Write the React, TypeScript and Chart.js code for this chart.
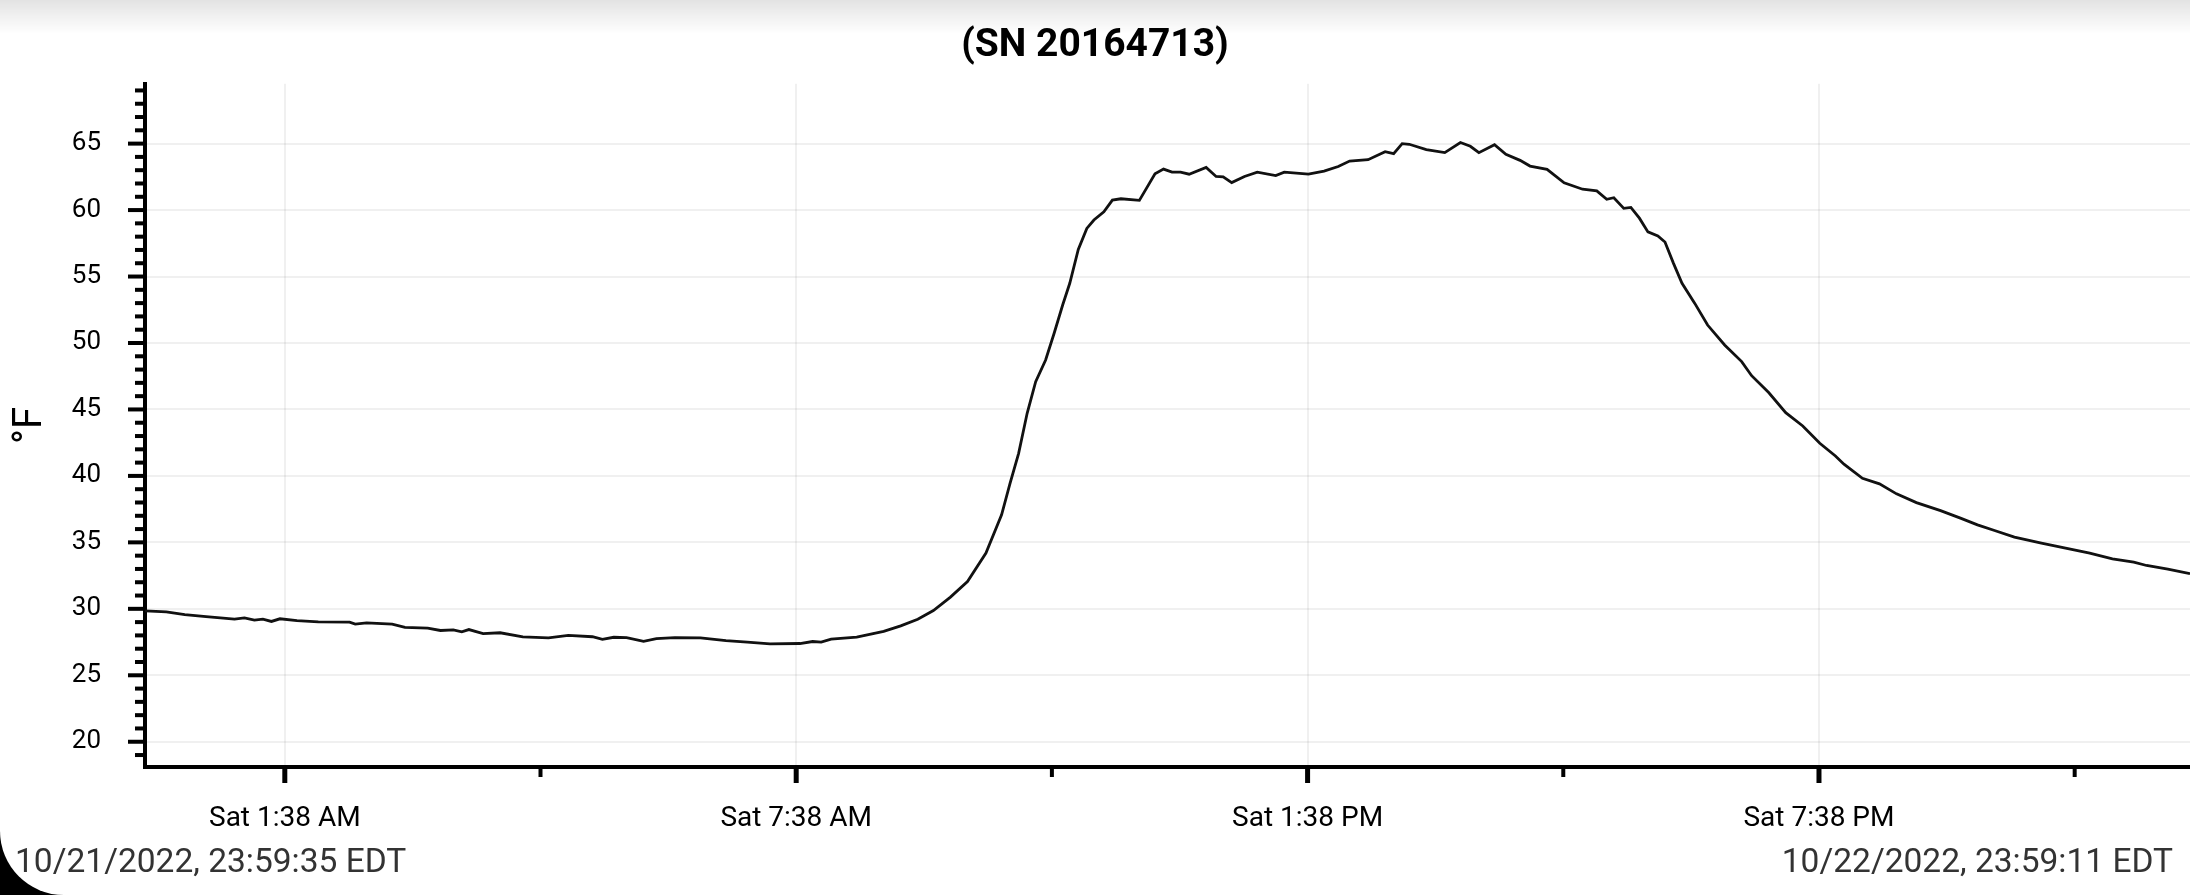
import { useEffect, useRef } from 'react';
import { Chart, registerables } from 'chart.js';

Chart.register(...registerables);

const startTime = '2022-10-21T23:59:35-04:00';
const endTime = '2022-10-22T23:59:11-04:00';

// minutes after the first reading
const minutesFromStart = [
  0, 15, 28, 43, 63, 70, 77, 83, 89, 95, 107, 122, 144, 148, 156, 174, 183, 199, 208, 217,
  223, 228, 238, 250, 266, 284, 298, 315, 322, 330, 339, 351, 360, 373, 391, 409, 424, 440, 461, 470,
  476, 483, 501, 520, 532, 544, 555, 567, 579, 592, 603, 609, 615, 621, 627, 634, 640, 646, 651, 657,
  663, 668, 675, 681, 687, 700, 711, 717, 723, 729, 735, 747, 754, 759, 765, 774, 783, 796, 802, 819,
  830, 840, 848, 861, 873, 879, 885, 890, 902, 915, 926, 933, 939, 950, 958, 968, 975, 987, 999, 1012,
  1022, 1029, 1034, 1041, 1046, 1052, 1058, 1065, 1070, 1076, 1082, 1091, 1100, 1112, 1124, 1131, 1143, 1155, 1167, 1179,
  1190, 1196, 1209, 1221, 1233, 1247, 1264, 1278, 1290, 1302, 1316, 1335, 1352, 1369, 1385, 1400, 1409, 1424, 1439.6,
];

const tempF = [
  29.85, 29.77, 29.57, 29.42, 29.22, 29.32, 29.15, 29.22, 29.05, 29.25, 29.12, 29.02, 29.0, 28.85, 28.95, 28.85, 28.6, 28.55, 28.37, 28.42,
  28.27, 28.44, 28.14, 28.2, 27.89, 27.81, 28.0, 27.9, 27.7, 27.86, 27.84, 27.56, 27.76, 27.84, 27.81, 27.61, 27.49, 27.36, 27.39, 27.54,
  27.49, 27.72, 27.87, 28.3, 28.72, 29.22, 29.87, 30.88, 32.05, 34.19, 37.07, 39.45, 41.7, 44.71, 47.09, 48.72, 50.73, 52.86, 54.49, 57.04,
  58.62, 59.25, 59.87, 60.75, 60.85, 60.73, 62.73, 63.08, 62.85, 62.85, 62.7, 63.21, 62.53, 62.5, 62.07, 62.53, 62.85, 62.6, 62.85, 62.7,
  62.93, 63.28, 63.69, 63.79, 64.39, 64.24, 65.0, 64.95, 64.55, 64.32, 65.08, 64.8, 64.32, 64.92, 64.19, 63.74, 63.31, 63.06, 62.05, 61.57,
  61.44, 60.81, 60.93, 60.13, 60.2, 59.39, 58.36, 58.06, 57.6, 55.99, 54.49, 52.98, 51.35, 49.85, 48.6, 47.54, 46.27, 44.76, 43.76, 42.46,
  41.5, 40.88, 39.82, 39.4, 38.65, 37.99, 37.39, 36.82, 36.32, 35.89, 35.39, 34.94, 34.56, 34.19, 33.76, 33.51, 33.26, 32.98, 32.65,
];

const xTickTimes = [
  '2022-10-22T01:38:00-04:00',
  '2022-10-22T04:38:00-04:00',
  '2022-10-22T07:38:00-04:00',
  '2022-10-22T10:38:00-04:00',
  '2022-10-22T13:38:00-04:00',
  '2022-10-22T16:38:00-04:00',
  '2022-10-22T19:38:00-04:00',
  '2022-10-22T22:38:00-04:00',
];
const xTickLabels = ['Sat 1:38 AM', '', 'Sat 7:38 AM', '', 'Sat 1:38 PM', '', 'Sat 7:38 PM', ''];

const yLabelValues = [20, 25, 30, 35, 40, 45, 50, 55, 60, 65];
const yMinorFrom = 19;
const yMinorTo = 69;
const yMin = 18.1;
const yMax = 69.5;

const footerLeft = '10/21/2022, 23:59:35 EDT';
const footerRight = '10/22/2022, 23:59:11 EDT';

const gridColor = 'rgba(0, 0, 0, 0.06)';

// tick marks of two lengths (major / minor), placed by the scales
const tickMarks = {
  id: 'tickMarks',
  afterDraw(chart) {
    const { ctx, chartArea, scales } = chart;
    ctx.save();
    ctx.strokeStyle = '#000';
    ctx.lineCap = 'butt';
    scales.y.ticks.forEach((t) => {
      const y = scales.y.getPixelForValue(t.value);
      const major = yLabelValues.includes(t.value);
      ctx.lineWidth = 4;
      ctx.beginPath();
      ctx.moveTo(chartArea.left - (major ? 17 : 10), y);
      ctx.lineTo(chartArea.left, y);
      ctx.stroke();
    });
    scales.x.ticks.forEach((t, i) => {
      const x = scales.x.getPixelForValue(t.value);
      const major = xTickLabels[i] !== '';
      ctx.lineWidth = major ? 5 : 4;
      ctx.beginPath();
      ctx.moveTo(x, chartArea.bottom);
      ctx.lineTo(x, chartArea.bottom + (major ? 16 : 10));
      ctx.stroke();
    });
    ctx.restore();
  },
};

const TemperatureChart = () => {
  const canvasRef = useRef<HTMLCanvasElement | null>(null);

  useEffect(() => {
    const canvas = canvasRef.current;
    if (!canvas) return;

    const startMs = Date.parse(startTime);
    const endMs = Date.parse(endTime);
    const points = minutesFromStart.map((m, i) => ({ x: startMs + m * 60000, y: tempF[i] }));

    const chart = new Chart(canvas, {
      type: 'line',
      data: {
        datasets: [
          {
            data: points,
            borderColor: '#111',
            borderWidth: 2.8,
            pointRadius: 0,
            tension: 0,
            fill: false,
          },
        ],
      },
      options: {
        animation: false,
        responsive: true,
        maintainAspectRatio: false,
        font: { family: 'Roboto' },
        layout: { padding: 0 },
        plugins: {
          legend: { display: false },
          tooltip: { enabled: false },
          title: {
            display: true,
            text: '(SN 20164713)',
            color: '#000',
            font: { family: 'Roboto', size: 39, weight: 'bold' },
            padding: { top: 23, bottom: 14 },
          },
        },
        scales: {
          x: {
            type: 'linear',
            min: startMs,
            max: endMs,
            afterBuildTicks: (scale) => {
              scale.ticks = xTickTimes.map((t) => ({ value: Date.parse(t) }));
            },
            afterFit: (scale) => {
              scale.height = 128;
            },
            ticks: {
              autoSkip: false,
              maxRotation: 0,
              padding: 35,
              color: '#000',
              font: { family: 'Roboto', size: 28 },
              callback: (_v, i) => xTickLabels[i],
            },
            grid: {
              drawTicks: false,
              lineWidth: 2,
              color: (c) => (c.tick && xTickLabels[c.index] ? gridColor : 'transparent'),
            },
            border: { display: true, color: '#000', width: 4 },
          },
          y: {
            min: yMin,
            max: yMax,
            afterBuildTicks: (scale) => {
              const ticks = [];
              for (let v = yMinorFrom; v <= yMinorTo; v++) ticks.push({ value: v });
              scale.ticks = ticks;
            },
            afterFit: (scale) => {
              scale.width = 145;
            },
            ticks: {
              autoSkip: false,
              padding: 44,
              color: '#000',
              font: { family: 'Roboto', size: 26 },
              callback: (v) => (yLabelValues.includes(v) ? String(v) : ''),
            },
            grid: {
              drawTicks: false,
              lineWidth: 2,
              color: (c) => (c.tick && yLabelValues.includes(c.tick.value) ? gridColor : 'transparent'),
            },
            border: { display: true, color: '#000', width: 4 },
            title: {
              display: true,
              text: '°F',
              color: '#000',
              font: { family: 'Roboto', size: 40 },
              padding: { top: 7, bottom: 0 },
            },
          },
        },
      },
      plugins: [tickMarks],
    });

    return () => {
      chart.destroy();
    };
  }, []);

  return (
    <div style={{ position: 'fixed', left: 0, top: 0, width: 2190, height: 895, background: '#000' }}>
      <div
        style={{
          position: 'absolute',
          inset: 0,
          background: '#fff',
          borderBottomLeftRadius: 64,
          overflow: 'hidden',
        }}
      >
        <div style={{ position: 'absolute', left: 0, top: 0, width: 2190, height: 895 }}>
          <canvas ref={canvasRef} />
        </div>
        <div
          style={{
            position: 'absolute',
            left: 0,
            top: 0,
            width: '100%',
            height: 34,
            background: 'linear-gradient(rgba(0,0,0,0.11), rgba(0,0,0,0))',
            pointerEvents: 'none',
          }}
        />
        <div
          style={{
            position: 'absolute',
            left: 15,
            top: 844,
            font: '33.5px Roboto',
            lineHeight: 1,
            color: '#333',
            whiteSpace: 'nowrap',
          }}
        >
          {footerLeft}
        </div>
        <div
          style={{
            position: 'absolute',
            right: 17,
            top: 844,
            font: '33.5px Roboto',
            lineHeight: 1,
            color: '#333',
            whiteSpace: 'nowrap',
          }}
        >
          {footerRight}
        </div>
      </div>
    </div>
  );
};

export default function App() {
  return <TemperatureChart />;
}
